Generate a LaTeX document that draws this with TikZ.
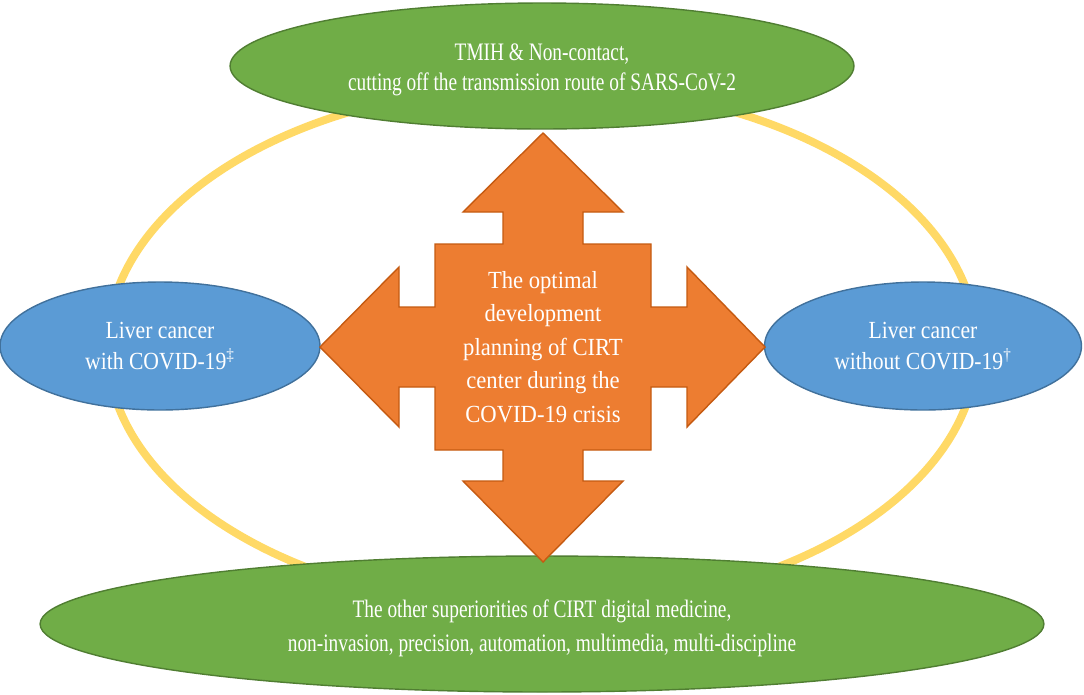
\documentclass[tikz,border=0pt]{standalone}
\usepackage{fontspec}
\setmainfont{Liberation Serif}[FakeStretch=0.77]
\newfontfamily\bluefont{Liberation Serif}[FakeStretch=0.88]
\newfontfamily\crossfont{Liberation Serif}[FakeStretch=0.92]
\usepackage{xcolor}
\usetikzlibrary{shapes.geometric}

\definecolor{ringyellow}{HTML}{FFD966}
\definecolor{leafgreen}{HTML}{70AD47}
\definecolor{leafline}{HTML}{507E32}
\definecolor{skyblue}{HTML}{5B9BD5}
\definecolor{skyline}{HTML}{41719C}
\definecolor{crossorange}{HTML}{ED7D31}
\definecolor{crossline}{HTML}{C55A11}

\tikzset{
  ring/.style={draw=ringyellow,line width=4.5pt},
  greenell/.style={ellipse,fill=leafgreen,draw=leafline,line width=0.8pt,inner sep=0pt,text=white,align=center},
  blueell/.style={ellipse,fill=skyblue,draw=skyline,line width=0.8pt,inner sep=0pt,text=white,align=center,font=\bluefont\fontsize{14}{17.5}\selectfont},
  crossarrow/.style={fill=crossorange,draw=crossline,line width=0.8pt,line join=miter}
}

\begin{document}
\begin{tikzpicture}[x=0.02cm,y=-0.02cm]
            		\useasboundingbox (0,0) rectangle (1084,694);
            		\draw[ring] (542,347) ellipse [x radius=8.7cm,y radius=5.24cm];

            		\node (tmih) at (542,66) [greenell,minimum width=12.48cm,minimum height=2.52cm] {};
            		\node (tmihtext) at (542,70) [text=white,align=center,font=\fontsize{14.3}{17}\selectfont] {TMIH \& Non-contact,\\cutting off the transmission route of SARS-CoV-2};
            		\node (other) at (542,624) [greenell,minimum width=20.08cm,minimum height=2.72cm] {};
            		\node (othertext) at (542,628) [text=white,align=center,font=\fontsize{14.3}{19.5}\selectfont] {The other superiorities of CIRT digital medicine,\\non-invasion, precision, automation, multimedia, multi-discipline};
            		\node (withcov) at (160,346) [blueell,minimum width=6.4cm,minimum height=2.56cm] {Liver cancer\\with COVID-19\textsuperscript{‡}};
            		\node (nocov) at (923,346) [blueell,minimum width=6.34cm,minimum height=2.56cm] {Liver cancer\\without COVID-19\textsuperscript{†}};

            		\draw[crossarrow,shift={(543,347)}] (0,-214) -- (80,-135) -- (40,-135) -- (40,-103) -- (108,-103) -- (108,-40) -- (144,-40) -- (144,-80) -- (222,0) -- (144,80) -- (144,40) -- (108,40) -- (108,103) -- (40,103) -- (40,134) -- (80,134) -- (0,215) -- (-80,134) -- (-40,134) -- (-40,103) -- (-108,103) -- (-108,40) -- (-144,40) -- (-144,80) -- (-223,0) -- (-144,-80) -- (-144,-40) -- (-108,-40) -- (-108,-103) -- (-40,-103) -- (-40,-135) -- (-80,-135) -- cycle;
            		\node (plan) at (543,347) [text=white,align=center,font=\crossfont\fontsize{14}{19}\selectfont] {The optimal\\development\\planning of CIRT\\center during the\\COVID-19 crisis};
        		\end{tikzpicture}
\end{document}
